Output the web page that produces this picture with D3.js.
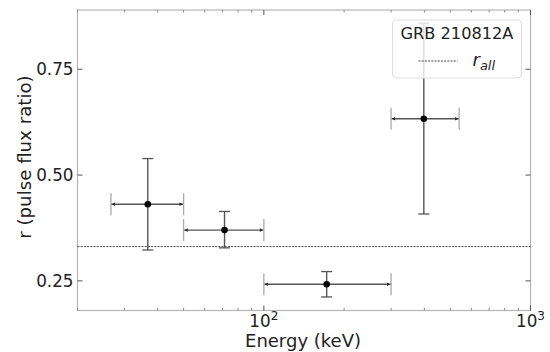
<!DOCTYPE html>
<html>
<head>
<meta charset="utf-8">
<script src="https://cdn.jsdelivr.net/npm/d3@7"></script>
<style>
  body { margin: 0; background: #fff; }
  svg text { font-family: "DejaVu Sans", sans-serif; }
</style>
</head>
<body>
<div id="chart"></div>
<script>
// energy bins (keV) and pulse flux ratio
const energy = [36.7, 71.2, 172, 398];
const energyLo = [26.7, 50, 100, 300];
const energyHi = [50, 100, 300, 540];
const ratio = [0.431, 0.370, 0.242, 0.633];
const ratioLo = [0.323, 0.328, 0.212, 0.408];
const ratioHi = [0.539, 0.414, 0.272, 0.859];
const rAll = 0.331;
const yTicks = [0.25, 0.50, 0.75];
const xTicks = [100, 1000];
const xMinor = [20, 30, 40, 50, 60, 70, 80, 90, 200, 300, 400, 500, 600, 700, 800, 900];
const title = 'GRB 210812A';

const margin = {top: 10, right: 19.5, bottom: 41.5, left: 77.5};
const W = 550, H = 352;
const width = W - margin.left - margin.right;
const height = H - margin.top - margin.bottom;

const svg = d3.select('#chart').append('svg')
    .attr('width', W)
    .attr('height', H);

const chart = svg.append('g')
    .attr('transform', `translate(${margin.left},${margin.top})`);

const x = d3.scaleLog().domain([20, 1000]).range([0, width]);
const y = d3.scaleLinear().domain([0.18, 0.89]).range([height, 0]);

const spine = '#b5b5b5';
const tickCol = '#555';

// frame
chart.append('rect')
    .attr('width', width)
    .attr('height', height)
    .attr('fill', 'none')
    .attr('stroke', spine)
    .attr('stroke-width', 1.2);

// y ticks (inward, both sides)
yTicks.forEach(v => {
  chart.append('line').attr('x1', 0).attr('x2', 5).attr('y1', y(v)).attr('y2', y(v))
      .attr('stroke', tickCol).attr('stroke-width', 1);
  chart.append('line').attr('x1', width - 5).attr('x2', width).attr('y1', y(v)).attr('y2', y(v))
      .attr('stroke', tickCol).attr('stroke-width', 1);
  chart.append('text')
      .attr('x', -4).attr('y', y(v))
      .attr('dy', '0.36em')
      .attr('text-anchor', 'end')
      .attr('font-size', 16.8)
      .attr('fill', '#222')
      .text(v.toFixed(2));
});

// x ticks
xTicks.forEach(v => {
  chart.append('line').attr('x1', x(v)).attr('x2', x(v)).attr('y1', height - 5).attr('y2', height)
      .attr('stroke', tickCol);
  chart.append('line').attr('x1', x(v)).attr('x2', x(v)).attr('y1', 0).attr('y2', 5)
      .attr('stroke', tickCol);
  const t = chart.append('text')
      .attr('x', x(v)).attr('y', height + 16.5)
      .attr('text-anchor', 'middle')
      .attr('font-size', 16.8)
      .attr('fill', '#222');
  t.append('tspan').text('10');
  t.append('tspan').attr('dy', -7).attr('font-size', 12).text(Math.round(Math.log10(v)));
});
xMinor.forEach(v => {
  chart.append('line').attr('x1', x(v)).attr('x2', x(v)).attr('y1', height - 2.5).attr('y2', height)
      .attr('stroke', '#888');
  chart.append('line').attr('x1', x(v)).attr('x2', x(v)).attr('y1', 0).attr('y2', 2.5)
      .attr('stroke', '#888');
});

// axis labels
chart.append('text')
    .attr('x', 303 - margin.left).attr('y', height + 36.5)
    .attr('text-anchor', 'middle')
    .attr('font-size', 18)
    .attr('fill', '#222')
    .text('Energy (keV)');

chart.append('text')
    .attr('transform', `translate(${-margin.left + 31},${y(0.5) - 18}) rotate(-90)`)
    .attr('text-anchor', 'middle')
    .attr('font-size', 18.2)
    .attr('fill', '#222')
    .text('r (pulse flux ratio)');

// r_all line
chart.append('line')
    .attr('x1', 0).attr('x2', width)
    .attr('y1', y(rAll)).attr('y2', y(rAll))
    .attr('stroke', '#444')
    .attr('stroke-width', 1)
    .attr('stroke-dasharray', '2,1.2');

// error bars
const pts = energy.map((e, i) => ({e, lo: energyLo[i], hi: energyHi[i], r: ratio[i], rlo: ratioLo[i], rhi: ratioHi[i]}));

const bars = chart.selectAll('.pt').data(pts).join('g').attr('class', 'pt');

bars.append('line')
    .attr('x1', d => x(d.lo)).attr('x2', d => x(d.hi))
    .attr('y1', d => y(d.r)).attr('y2', d => y(d.r))
    .attr('stroke', '#555').attr('stroke-width', 1.3);
bars.append('line')
    .attr('x1', d => x(d.lo)).attr('x2', d => x(d.lo))
    .attr('y1', d => y(d.r) - 11).attr('y2', d => y(d.r) + 11)
    .attr('stroke', '#aaa').attr('stroke-width', 1.3);
bars.append('line')
    .attr('x1', d => x(d.hi)).attr('x2', d => x(d.hi))
    .attr('y1', d => y(d.r) - 11).attr('y2', d => y(d.r) + 11)
    .attr('stroke', '#aaa').attr('stroke-width', 1.3);
// small arrow heads at bin ends
bars.append('path')
    .attr('d', d => `M${x(d.lo) + 1},${y(d.r)} l3,-1.8 v3.6 Z M${x(d.hi) - 1},${y(d.r)} l-3,-1.8 v3.6 Z`)
    .attr('fill', '#222');

bars.append('line')
    .attr('x1', d => x(d.e)).attr('x2', d => x(d.e))
    .attr('y1', d => y(d.rlo)).attr('y2', d => y(d.rhi))
    .attr('stroke', '#555').attr('stroke-width', 1.4);
bars.append('line')
    .attr('x1', d => x(d.e) - 5.5).attr('x2', d => x(d.e) + 5.5)
    .attr('y1', d => y(d.rlo)).attr('y2', d => y(d.rlo))
    .attr('stroke', '#555').attr('stroke-width', 1.3);
bars.append('line')
    .attr('x1', d => x(d.e) - 5.5).attr('x2', d => x(d.e) + 5.5)
    .attr('y1', d => y(d.rhi)).attr('y2', d => y(d.rhi))
    .attr('stroke', '#555').attr('stroke-width', 1.3);
bars.append('circle')
    .attr('cx', d => x(d.e)).attr('cy', d => y(d.r))
    .attr('r', 3.3)
    .attr('fill', '#000');

// legend
const lg = chart.append('g').attr('transform', `translate(${392.5 - margin.left},${20 - margin.top})`);
lg.append('rect')
    .attr('width', 129).attr('height', 58)
    .attr('rx', 4)
    .attr('fill', '#fff').attr('fill-opacity', 0.8)
    .attr('stroke', '#ddd');
lg.append('text')
    .attr('x', 64.5).attr('y', 19)
    .attr('text-anchor', 'middle')
    .attr('font-size', 16.2)
    .attr('fill', '#222')
    .text(title);
lg.append('line')
    .attr('x1', 26).attr('x2', 65)
    .attr('y1', 41).attr('y2', 41)
    .attr('stroke', '#444')
    .attr('stroke-dasharray', '2,1.2');
const lt = lg.append('text')
    .attr('x', 80).attr('y', 46)
    .attr('font-size', 18)
    .attr('font-style', 'italic')
    .attr('fill', '#222');
lt.append('tspan').text('r');
lt.append('tspan').attr('dy', 4).attr('font-size', 13).text('all');
</script>
</body>
</html>
